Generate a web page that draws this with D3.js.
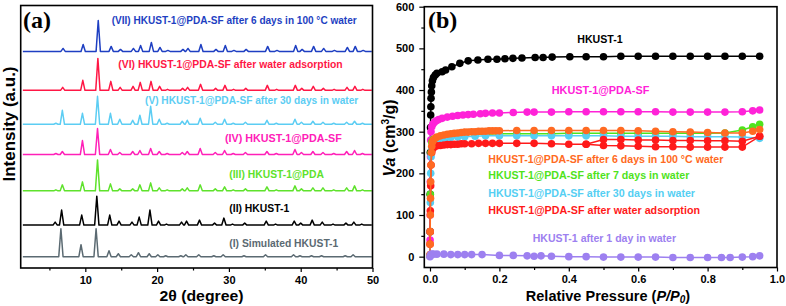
<!DOCTYPE html>
<html><head><meta charset="utf-8">
<script src="https://cdn.jsdelivr.net/npm/d3@7"></script>
<style>body{margin:0;background:#fff}svg{display:block}text{font-family:Arial,"Liberation Sans",Helvetica,sans-serif;font-weight:bold}</style>
</head><body><svg id="c" width="786" height="306"></svg>
<script>
// ---------- Panel (a) data: XRD peaks (2θ) and heights per pattern ----------
const xrdPeaks = [5.8,6.7,9.5,11.6,13.4,14.7,16.5,17.5,19.0,20.2,21.3,23.4,24.1,25.9,28.0,29.3,30.5,32.2,35.2,36.5,39.1,40.0,41.6,43.0,44.5,46.3,47.4,48.5];
const hI   = [0,28,12,28,6,3,2,4,3,2,1,1,2,2,1,2,0,1,2,0,2,1,1,1,0,1,2,0];
const hII  = [3,15,10,29,10,4,3,8,15,4,1,3,4,5,2,7,1,2,4,1,4,2,5,3,1,2,3,1];
const hIII = [1,6,9,31,7,2,2,6,8,3,1,2,3,6,2,4,1,2,4,1,5,2,3,3,1,3,5,1];
const hIV  = [1,3,14,26,5,2,3,4,6,3,1,2,3,6,2,4,1,2,3,1,5,2,3,2,1,3,4,1];
const hV   = [1,14,11,28,11,5,4,9,18,5,1,3,4,6,2,5,1,2,4,1,5,2,3,2,1,2,3,1];
const hVI  = [0,3,10,32,9,3,4,8,9,4,1,2,3,6,2,5,1,2,5,1,5,2,4,2,1,3,4,1];
const hVII = [0,3,7,31,5,2,3,6,9,4,1,2,3,7,2,6,1,2,5,1,6,2,5,3,1,4,5,1];
const xrdHeights = [hI,hII,hIII,hIV,hV,hVI,hVII];
const xrdOffsets = [11.3,43,77.3,113.7,144,178,217];
const xrdShifts  = [-0.1,0,0.1,0.1,0.1,0.15,0.2];
const xrdNames = ["(I) Simulated HKUST-1","(II) HKUST-1","(III) HKUST-1@PDA","(IV) HKUST-1@PDA-SF",
  "(V) HKUST-1@PDA-SF after 30 days in water","(VI) HKUST-1@PDA-SF after water adsorption",
  "(VII) HKUST-1@PDA-SF after 6 days in 100 °C water"];
const xrdColors = ["#5b6a72","#000000","#5fe22c","#ff20b8","#5ccdf3","#ff1745","#1e3fc2"];
const xTicksA = [10,20,30,40,50];
const xMinorA = [5,15,25,35,45];

// ---------- Panel (b) data: N2 isotherms ----------
const pBlack = [0,0.0003,0.0006,0.001,0.0015,0.002,0.0025,0.003,0.004,0.005,0.007,0.01,0.015,0.02,0.035,0.045,0.063,0.086,0.11,0.138,0.167,0.193,0.216,0.239,0.265,0.303,0.326,0.352,0.403,0.45,0.5,0.55,0.6,0.65,0.7,0.75,0.8,0.85,0.9,0.95];
const vBlack = [2,60,150,250,310,340,360,380,395,410,422,430,436,440,444,448,456,464,470,472,474,474,475,476,477,478,478,479,480,480,480,481,481,481,481,481,481,481,481,481];
const pMag = [0,0.0003,0.0006,0.001,0.0015,0.002,0.003,0.005,0.008,0.012,0.018,0.025,0.035,0.05,0.065,0.08,0.095,0.11,0.125,0.145,0.16,0.18,0.2,0.24,0.28,0.3,0.35,0.4,0.45,0.5,0.55,0.6,0.65,0.7,0.75,0.8,0.85,0.9,0.93,0.95];
const vMag = [2,40,100,180,240,280,300,312,318,322,326,329,332,335,337,339,340,341,342,343,344,345,345,346,347,347,347,348,348,348,348,348,348,347,347,347,347,348,350,352];
const pGreen = [0.001,0.003,0.005,0.01,0.02,0.04,0.06,0.08,0.1,0.13,0.16,0.2,0.25,0.3,0.35,0.4,0.45,0.5,0.55,0.6,0.65,0.7,0.75,0.8,0.85,0.9,0.93,0.95];
const vGreen = [150,250,275,282,286,289,291,292,293,294,294,295,295,295,295,296,296,296,296,296,296,296,296,296,297,304,312,318];
const pCyan = [0,0.0005,0.001,0.002,0.003,0.005,0.008,0.012,0.02,0.03,0.045,0.06,0.08,0.1,0.13,0.16,0.2,0.25,0.3,0.35,0.4,0.45,0.5,0.55,0.6,0.65,0.7,0.75,0.8,0.85,0.9,0.95];
const vCyan = [3,60,130,200,240,262,270,275,279,282,284,286,287,288,289,290,290,290,290,290,290,290,290,289,289,289,289,288,288,288,287,284];
const pRedAds = [0,0.0005,0.001,0.002,0.003,0.005,0.008,0.012,0.02,0.03,0.04,0.05,0.06,0.07,0.08,0.09,0.1,0.12,0.14,0.16,0.18,0.2,0.25,0.3,0.35,0.4,0.45,0.5,0.55,0.6,0.65,0.7,0.75,0.8,0.85,0.9,0.95];
const vRedAds = [30,60,110,170,220,250,259,263,266,267,268,269,269,270,270,271,271,271,272,272,272,272,272,272,271,270,270,267,266,265,264,264,263,263,263,263,289];
const pRedDes = [0.95,0.9,0.85,0.8,0.75,0.7,0.65,0.6,0.55,0.5,0.45];
const vRedDes = [289,277,278,278,279,279,280,280,281,281,270];
const pOrange = [0,0.0003,0.0006,0.001,0.0015,0.002,0.003,0.004,0.005,0.007,0.01,0.015,0.02,0.03,0.04,0.05,0.06,0.07,0.08,0.09,0.1,0.11,0.12,0.13,0.14,0.15,0.16,0.17,0.18,0.19,0.2,0.25,0.3,0.35,0.4,0.45,0.5,0.55,0.6,0.65,0.7,0.75,0.8,0.85,0.9,0.93,0.95];
const vOrange = [5,30,60,100,140,180,220,250,265,275,280,284,287,290,292,294,295,296,297,298,299,299,300,300,301,301,301,302,302,302,302,303,303,303,303,303,303,303,302,301,300,299,298,297,297,301,305];
const pPurple = [0,0.002,0.005,0.01,0.02,0.04,0.06,0.08,0.1,0.12,0.15,0.2,0.24,0.28,0.3,0.32,0.35,0.4,0.45,0.5,0.55,0.6,0.65,0.7,0.75,0.8,0.84,0.865,0.9,0.93,0.95];
const vPurple = [0,5,6,6,6,6,5,5,5,5,5,3,3,2,1,2,1,0,0,-1,-1,-1,-1,-2,-2,-2,-2,-2,-1,0,2];
const isoNames = ["HKUST-1","HKUST-1@PDA-SF","HKUST-1@PDA-SF after 6 days in 100 °C water",
  "HKUST-1@PDA-SF after 7 days in water","HKUST-1@PDA-SF after 30 days in water",
  "HKUST-1@PDA-SF after water adsorption","HKUST-1 after 1 day in water"];
const isoColors = ["#000000","#ff22d8","#ff6a22","#4fe31c","#55cff3","#ff1a1a","#9d80f0"];
const xTicksB = [0,0.2,0.4,0.6,0.8,1.0];
const xMinorB = [0.1,0.3,0.5,0.7,0.9];
const yTicksB = [0,100,200,300,400,500,600];
const yMinorB = [50,150,250,350,450,550];

// ---------- drawing ----------
const svg = d3.select("#c");
const line = d3.line();

// Panel (a)
const xA = d3.scaleLinear().domain([1,50]).range([20.7,372.5]);
const yA = d3.scaleLinear().domain([0,263]).range([268,5.5]);
const gA = svg.append("g");
xrdHeights.forEach((hs,i)=>{
  const pts=[[1.3,0]];
  xrdPeaks.forEach((p,j)=>{const q=p+xrdShifts[i];const h=hs[j]; if(h>0) pts.push([q-0.3,0],[q,h],[q+0.3,0]);});
  pts.push([49.9,0]);
  gA.append("path").attr("fill","none").attr("stroke",xrdColors[i]).attr("stroke-width",1.5)
    .attr("stroke-linejoin","round")
    .attr("d",line.x(d=>xA(d[0])).y(d=>yA(d[1]+xrdOffsets[i]))(pts));
});
gA.append("g").attr("transform","translate(0,268)")
  .call(d3.axisBottom(xA).tickValues(xTicksA).tickSize(4).tickPadding(4).tickFormat(d3.format("d")));
gA.append("g").attr("transform","translate(0,268)")
  .call(d3.axisBottom(xA).tickValues(xMinorA).tickSize(2.5).tickFormat(""));
gA.append("rect").attr("x",20.7).attr("y",5.5).attr("width",372.5-20.7).attr("height",268-5.5)
  .attr("fill","none").attr("stroke","#000").attr("stroke-width",1.6);

// Panel (a) labels
const labA = [[229.3,247,109],[229.3,212,60],[229.3,178,94.7],[225,141.5,116.7],[145,104,213.3],[118.3,68,224.4],[111.7,23.5,245]];
labA.forEach((l,i)=>{
  gA.append("text").attr("x",l[0]).attr("y",l[1]).attr("font-size",11).attr("fill",xrdColors[i])
    .attr("textLength",l[2]).attr("lengthAdjust","spacingAndGlyphs").text(xrdNames[i]);
});
gA.append("text").attr("x",23).attr("y",27.5).attr("font-size",24)
  .style("font-family","'Liberation Serif','Times New Roman',serif").text("(a)");
gA.append("text").attr("x",201.5).attr("y",301).attr("text-anchor","middle").attr("font-size",15)
  .attr("textLength",84).attr("lengthAdjust","spacingAndGlyphs").text("2θ (degree)");
gA.append("text").attr("transform","translate(14.8,124) rotate(-90)").attr("text-anchor","middle")
  .attr("font-size",16).attr("textLength",115).attr("lengthAdjust","spacingAndGlyphs").text("Intensity (a.u.)");

// Panel (b)
const xB = d3.scaleLinear().domain([-0.0164,1.0]).range([424.3,777]);
const yB = d3.scaleLinear().domain([-26,600]).range([267.5,6.7]);
const gB = svg.append("g");
gB.append("g").attr("transform","translate(0,267.5)")
  .call(d3.axisBottom(xB).tickValues(xTicksB).tickSize(4).tickPadding(4).tickFormat(d3.format(".1f")));
gB.append("g").attr("transform","translate(0,267.5)")
  .call(d3.axisBottom(xB).tickValues(xMinorB).tickSize(2.5).tickFormat(""));
gB.append("g").attr("transform","translate(424.3,0)")
  .call(d3.axisLeft(yB).tickValues(yTicksB).tickSize(5).tickPadding(5).tickFormat(d3.format("d")));
gB.append("g").attr("transform","translate(424.3,0)")
  .call(d3.axisLeft(yB).tickValues(yMinorB).tickSize(3).tickFormat(""));

const isoSeries = [
  [pBlack,vBlack,0],[pMag,vMag,1],[pGreen,vGreen,3],[pCyan,vCyan,4],
  [pRedAds,vRedAds,5],[pRedDes,vRedDes,5],[pOrange,vOrange,2],[pPurple,vPurple,6]];
isoSeries.forEach(s=>{
  const pts = s[0].map((p,k)=>[p,s[1][k]]);
  const c = isoColors[s[2]];
  gB.append("path").attr("fill","none").attr("stroke",c).attr("stroke-width",1.5)
    .attr("d",line.x(d=>xB(d[0])).y(d=>yB(d[1]))(pts));
  gB.selectAll(null).data(pts).enter().append("circle")
    .attr("cx",d=>xB(d[0])).attr("cy",d=>yB(d[1])).attr("r",3.8).attr("fill",c);
});
gB.append("rect").attr("x",424.3).attr("y",6.7).attr("width",777-424.3).attr("height",267.5-6.7)
  .attr("fill","none").attr("stroke","#000").attr("stroke-width",1.6);

const labB = [[577.3,43,45.4],[551.7,94,97.6],[488.3,163.3,235],[488.3,179,201],[488.3,196.5,206.7],[488.3,214,211.7],[532.7,241.5,143.3]];
labB.forEach((l,i)=>{
  gB.append("text").attr("x",l[0]).attr("y",l[1]).attr("font-size",11).attr("fill",isoColors[i])
    .attr("textLength",l[2]).attr("lengthAdjust","spacingAndGlyphs").text(isoNames[i]);
});
gB.append("text").attr("x",428).attr("y",28).attr("font-size",24)
  .style("font-family","'Liberation Serif','Times New Roman',serif").text("(b)");

const xt = gB.append("text").attr("x",608).attr("y",300.5).attr("font-size",14.5).attr("text-anchor","middle");
xt.append("tspan").text("Relative Pressure (");
xt.append("tspan").style("font-style","italic").text("P/P");
xt.append("tspan").style("font-style","italic").attr("font-size",10).attr("dy",2).text("0");
xt.append("tspan").attr("dy",-2).text(")");

const yt = gB.append("text").attr("transform","translate(395,138) rotate(-90)").attr("text-anchor","middle")
  .attr("font-size",16);
yt.append("tspan").style("font-style","italic").text("Va");
yt.append("tspan").text(" (cm");
yt.append("tspan").attr("font-size",10).attr("dy",-6).text("3");
yt.append("tspan").attr("dy",6).text("/g)");

svg.selectAll(".tick text").attr("font-size",11).attr("fill","#000").style("font-weight","bold");
svg.selectAll(".domain").remove();
svg.selectAll(".tick line").attr("stroke","#000").attr("stroke-width",1.2);
</script></body></html>
